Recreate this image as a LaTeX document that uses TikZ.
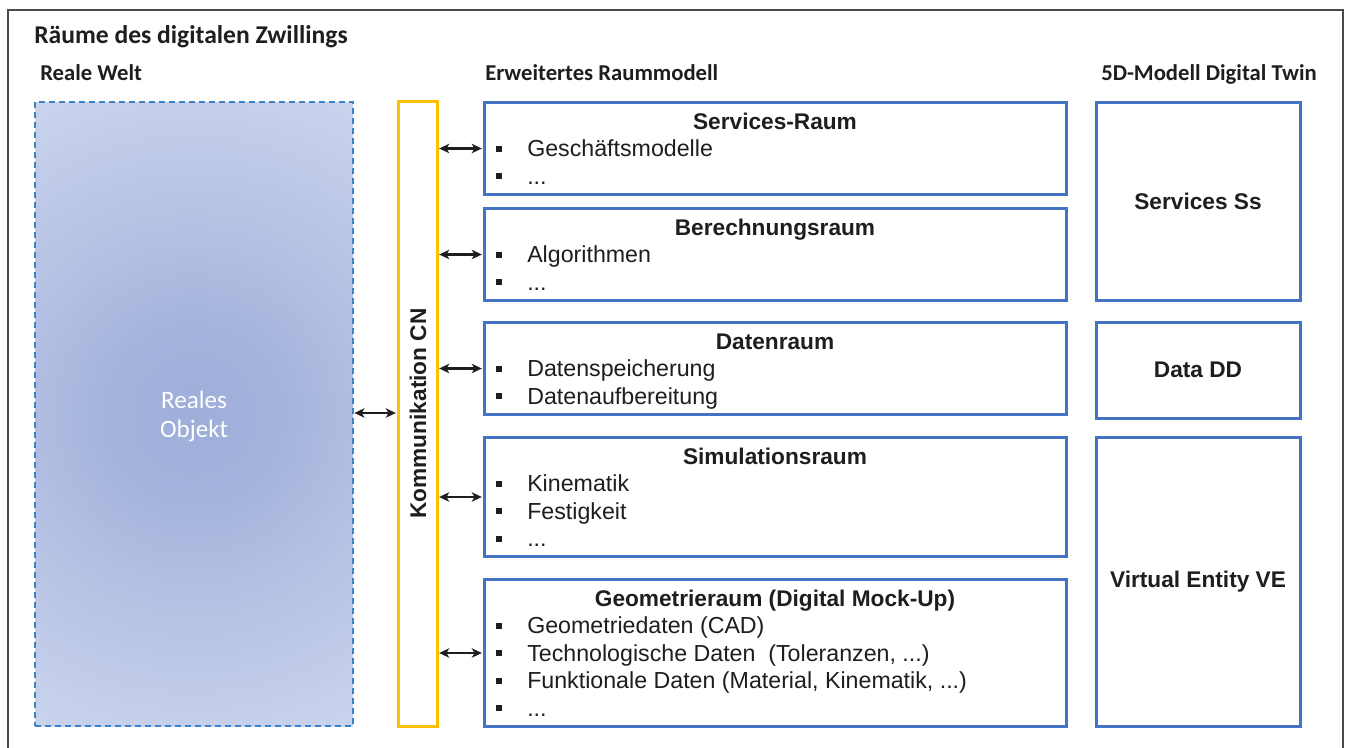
\documentclass[tikz,border=0pt]{standalone}
\usepackage{fontspec}
\setmainfont{Liberation Sans}
\newfontfamily\calfont{Carlito}
\usetikzlibrary{arrows.meta,fit}
\definecolor{boxblue}{HTML}{4472C4}
\definecolor{commyellow}{HTML}{FFC000}
\definecolor{dashblue}{HTML}{3A83C8}
\definecolor{txt}{HTML}{1E1E1E}
\definecolor{framegray}{HTML}{4A4A4A}
\definecolor{shA}{HTML}{9DAED9}
\definecolor{shB}{HTML}{A4B3DC}
\definecolor{shC}{HTML}{B6C2E4}
\definecolor{shD}{HTML}{C9D2EC}
\definecolor{shE}{HTML}{D6DCF1}
\definecolor{shF}{HTML}{DDE2F3}
\definecolor{shG}{HTML}{DFE4F4}
\pgfdeclareradialshading{realshade}{\pgfpoint{0bp}{0bp}}{color(0bp)=(shA); color(6bp)=(shB); color(14bp)=(shC); color(24bp)=(shD); color(34bp)=(shE); color(44bp)=(shF); color(50bp)=(shG)}
\newcommand\boxitem[3]{%
  \node[bulletsq] (#1b) at (499,#2-8) {};
  \node[itemtext] (#1) at (527,#2) {#3};
}
\tikzset{
  bluebox/.style={draw=boxblue, line width=2.25pt, inner sep=0pt},
  realbox/.style={draw=dashblue, line width=1.1pt, dash pattern=on 4.5pt off 3pt, inner sep=0pt},
  commbox/.style={draw=commyellow, line width=2.25pt, inner sep=0pt},
  boxtitle/.style={font=\bfseries\fontsize{17}{20}\selectfont, text=txt, anchor=base, inner sep=0pt},
  itemtext/.style={font=\fontsize{17.4}{20}\selectfont, text=txt, anchor=base west, inner sep=0pt},
  bulletsq/.style={fill=txt, minimum size=4.5pt, inner sep=0pt},
  heading/.style={font=\calfont\bfseries\fontsize{17}{20}\selectfont, text=txt, anchor=base west, inner sep=0pt},
  dtlabel/.style={font=\bfseries\fontsize{17}{20}\selectfont, text=txt},
  biarrow/.style={{Stealth[length=7.5pt,width=7pt,inset=2pt]}-{Stealth[length=7.5pt,width=7pt,inset=2pt]}, line width=1.7pt, draw=txt, shorten >=0.5pt, shorten <=0.5pt},
}
\begin{document}
\begin{tikzpicture}[x=0.75pt, y=-0.75pt]
\useasboundingbox (0,0) rectangle (1348,747);
\fill[white] (0,0) rectangle (1348,747);
% outer frame
\draw[framegray, line width=1.2pt] (8,760) -- (8,10) -- (1343,10) -- (1343,760);
% headings
\node[heading, font=\calfont\bfseries\fontsize{19.2}{22}\selectfont] (title) at (34,43) {Räume des digitalen Zwillings};
\node[heading] (hreal) at (40,80) {Reale Welt};
\node[heading] (hraum) at (485,80) {Erweitertes Raummodell};
\node[heading] (hfive) at (1101,80) {5D-Modell Digital Twin};
% real world
\begin{scope}
  \clip (35,102) rectangle (353,726);
  \shade[shading=realshade] (194-350,414-350) rectangle (194+350,414+350);
\end{scope}
\node[realbox, fit={(35,102) (353,726)}] (real) {};
\node[font=\calfont\fontsize{18.8}{21.8}\selectfont, text=white, align=center] (obj) at (194,416) {Reales\\Objekt};
% communication
\node[commbox, fit={(398,101) (437,726)}] (komm) {};
\node[font=\bfseries\fontsize{17}{20}\selectfont, text=txt, rotate=90] (kommtext) at (418,413.5) {Kommunikation CN};
% blue boxes
\node[bluebox, fit={(484,102) (1066,194)}] (srv) {};
\node[boxtitle] (srvt) at (775,129) {Services-Raum};
\boxitem{ga}{156.5}{Geschäftsmodelle}
\boxitem{gb}{184}{...}
\node[bluebox, fit={(484,208) (1066,300)}] (ber) {};
\node[boxtitle] (bert) at (775,235) {Berechnungsraum};
\boxitem{ba}{262.5}{Algorithmen}
\boxitem{bb}{290}{...}
\node[bluebox, fit={(484,322) (1066,414)}] (dat) {};
\node[boxtitle] (datt) at (775,349) {Datenraum};
\boxitem{da}{376.5}{Datenspeicherung}
\boxitem{db}{404}{Datenaufbereitung}
\node[bluebox, fit={(484,437) (1066,556)}] (sim) {};
\node[boxtitle] (simt) at (775,464) {Simulationsraum};
\boxitem{sa}{491.5}{Kinematik}
\boxitem{sb}{519}{Festigkeit}
\boxitem{sc}{546.5}{...}
\node[bluebox, fit={(484,579) (1066,726)}] (geo) {};
\node[boxtitle] (geot) at (775,606) {Geometrieraum (Digital Mock-Up)};
\boxitem{ea}{633.5}{Geometriedaten (CAD)}
\boxitem{eb}{661}{Technologische Daten\ \ (Toleranzen, ...)}
\boxitem{ec}{688.5}{Funktionale Daten (Material, Kinematik, ...)}
\boxitem{ed}{716}{...}
% right boxes
\node[bluebox, fit={(1096,102) (1300,300)}] (ss) {};
\node[dtlabel] (sst) at (ss.center) {Services Ss};
\node[bluebox, fit={(1096,322) (1300,418)}] (dd) {};
\node[dtlabel] (ddt) at (dd.center) {Data DD};
\node[bluebox, fit={(1096,437) (1300,726)}] (ve) {};
\node[dtlabel] (vet) at (ve.center) {Virtual Entity VE};
% arrows
\coordinate (larrow) at (375,413);
\coordinate (simarrow) at (460,497);
\draw[biarrow] (real.east |- larrow) -- (komm.west |- larrow);
\draw[biarrow] (komm.east |- gab) -- (srv.west |- gab);
\draw[biarrow] (komm.east |- bab) -- (ber.west |- bab);
\draw[biarrow] (komm.east |- dab) -- (dat.west |- dab);
\draw[biarrow] (komm.east |- simarrow) -- (sim.west |- simarrow);
\draw[biarrow] (komm.east |- ebb) -- (geo.west |- ebb);
\end{tikzpicture}
\end{document}
